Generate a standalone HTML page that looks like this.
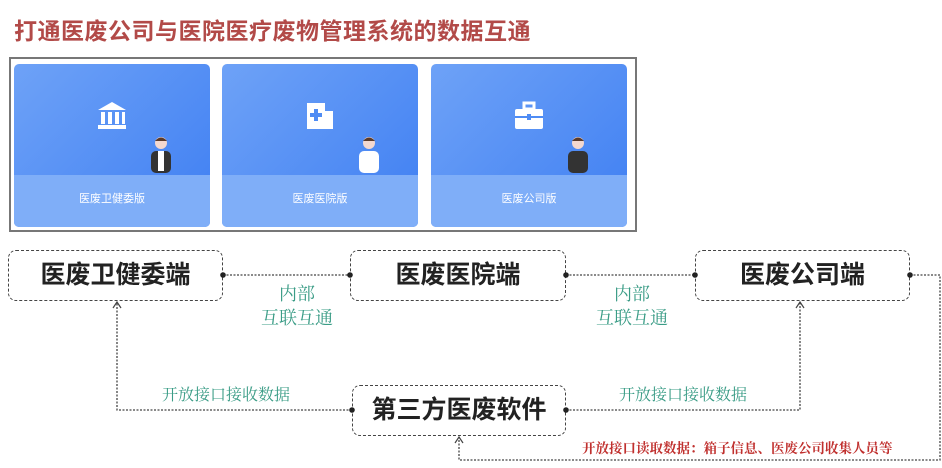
<!DOCTYPE html>
<html><head><meta charset="utf-8"><style>
body{margin:0;width:942px;height:468px;background:#fff;position:relative;overflow:hidden;font-family:"Liberation Sans","Noto Sans CJK SC",sans-serif}
.t{position:absolute;left:14px;top:12px;font-size:23px;font-weight:bold;color:#b24a48;letter-spacing:0.5px}
.panel{position:absolute;left:9px;top:57px;border:2px solid #777;box-sizing:border-box;width:628px;height:175px}
.card{position:absolute;top:5px;width:196px;height:163px;border-radius:5px;background:linear-gradient(135deg,#6ea2f7,#3f7ff2);overflow:hidden}
.card .b{position:absolute;left:0;right:0;bottom:0;height:52px;background:#7faef8;color:#fff;font-size:11px;text-align:center;line-height:48px}
.card .ic{position:absolute;left:82px;top:36px;width:32px;height:32px}
.card .p{position:absolute;left:134px;top:70px;width:26px;height:40px}
.node{position:absolute;border:1.5px dashed #444;border-radius:8px;box-sizing:border-box;font-size:25px;font-weight:bold;color:#222;text-align:center}
.g{position:absolute;color:#3a9c86;font-size:17px;text-align:center;font-family:"Noto Serif CJK SC",serif}
</style></head><body>
<div class="t">打通医废公司与医院医疗废物管理系统的数据互通</div>
<div class="panel">
<div class="card" style="left:3px"><svg class="ic" viewBox="0 0 32 32"><polygon points="16,2 30,10 2,10" fill="#fff"/><rect x="5" y="12" width="4" height="12" fill="#fff"/><rect x="12" y="12" width="4" height="12" fill="#fff"/><rect x="19" y="12" width="4" height="12" fill="#fff"/><rect x="26" y="12" width="3" height="12" fill="#fff"/><rect x="2" y="25" width="28" height="4" fill="#fff"/></svg>
<svg class="p" viewBox="0 0 26 40"><circle cx="13" cy="9" r="6" fill="#f4d8cf"/><path d="M7 7 Q13 0 19 7" fill="#5a3a2a"/><rect x="3" y="17" width="20" height="22" rx="5" fill="#333"/><rect x="10" y="17" width="6" height="20" fill="#fff"/></svg><div class="b">医废卫健委版</div></div>
<div class="card" style="left:211px"><svg class="ic" viewBox="0 0 32 32"><rect x="3" y="3" width="18" height="26" fill="#fff"/><rect x="21" y="11" width="8" height="18" fill="#fff"/><rect x="10" y="9" width="4" height="12" fill="#4f8cf4"/><rect x="6" y="13" width="12" height="4" fill="#4f8cf4"/></svg>
<svg class="p" viewBox="0 0 26 40"><circle cx="13" cy="9" r="6" fill="#f4d8cf"/><path d="M7 7 Q13 0 19 7" fill="#5a3a2a"/><rect x="3" y="17" width="20" height="22" rx="5" fill="#fff"/></svg><div class="b">医废医院版</div></div>
<div class="card" style="left:420px"><svg class="ic" viewBox="0 0 32 32"><rect x="11" y="3" width="10" height="6" fill="none" stroke="#fff" stroke-width="3"/><rect x="2" y="9" width="28" height="20" rx="2" fill="#fff"/><rect x="2" y="16" width="28" height="2" fill="#4f8cf4"/><rect x="14" y="14" width="4" height="6" fill="#4f8cf4"/></svg>
<svg class="p" viewBox="0 0 26 40"><circle cx="13" cy="9" r="6" fill="#f4d8cf"/><path d="M7 7 Q13 0 19 7" fill="#5a3a2a"/><rect x="3" y="17" width="20" height="22" rx="5" fill="#333"/></svg><div class="b">医废公司版</div></div>
</div>
<div class="node" style="left:8px;top:250px;width:215px;height:51px;line-height:48px">医废卫健委端</div>
<div class="node" style="left:350px;top:250px;width:216px;height:51px;line-height:48px">医废医院端</div>
<div class="node" style="left:695px;top:250px;width:215px;height:51px;line-height:48px">医废公司端</div>
<div class="node" style="left:352px;top:385px;width:214px;height:51px;line-height:48px">第三方医废软件</div>
<svg style="position:absolute;left:0;top:0" width="942" height="468">
<g stroke="#444" stroke-width="1.3" stroke-dasharray="2,1.5" fill="none">
<line x1="223" y1="275" x2="350" y2="275"/>
<line x1="566" y1="275" x2="695" y2="275"/>
<polyline points="910,275 940,275 940,460 459,460 459,437"/>
<polyline points="352,410 117,410 117,302"/>
<polyline points="566,410 800,410 800,302"/>
</g>
<g stroke="#444" stroke-width="1.2" fill="none">
<polyline points="455,443 459,437 463,443"/><polyline points="113,308 117,302 121,308"/><polyline points="796,308 800,302 804,308"/>
</g>
<g fill="#222"><circle cx="223" cy="275" r="2.8"/><circle cx="350" cy="275" r="2.8"/><circle cx="566" cy="275" r="2.8"/><circle cx="695" cy="275" r="2.8"/><circle cx="910" cy="275" r="2.8"/><circle cx="352" cy="410" r="2.8"/><circle cx="566" cy="410" r="2.8"/></g>
</svg>
<div class="g" style="left:242px;top:281px;width:110px;line-height:24px;font-size:18px">内部<br>互联互通</div>
<div class="g" style="left:577px;top:281px;width:110px;line-height:24px;font-size:18px">内部<br>互联互通</div>
<div class="g" style="left:162px;top:382px;font-size:16px">开放接口接收数据</div>
<div class="g" style="left:619px;top:382px;font-size:16px">开放接口接收数据</div>
<div class="g" style="left:582px;top:437px;font-size:13.5px;color:#c0302e;font-weight:bold">开放接口读取数据：箱子信息、医废公司收集人员等</div>
</body></html>
